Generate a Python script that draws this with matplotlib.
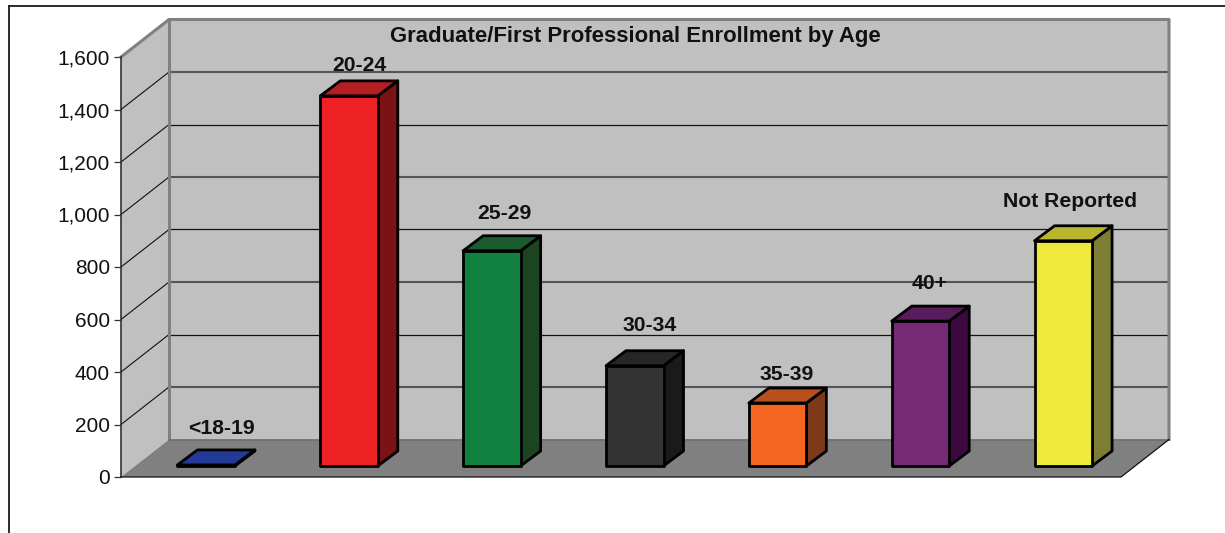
import matplotlib
matplotlib.use("Agg")
import matplotlib.pyplot as plt
from matplotlib.patches import Polygon

plt.rcParams["font.family"] = ["Liberation Sans", "DejaVu Sans"]

TITLE = "Graduate/First Professional Enrollment by Age"
categories = ["<18-19", "20-24", "25-29", "30-34", "35-39", "40+", "Not Reported"]
values = [4, 1410, 820, 382, 240, 552, 858]
y_ticks = [0, 200, 400, 600, 800, 1000, 1200, 1400, 1600]

front_colors = ["#233a97", "#ee2224", "#12803e", "#333333", "#f4661f", "#752a75", "#efe93c"]
top_colors = ["#233a97", "#b31e23", "#1a5c2e", "#262626", "#b8501f", "#581c5c", "#b8b52e"]
side_colors = ["#1a2a70", "#7b1315", "#1c4420", "#1a1a1a", "#7d3a1b", "#3c0a40", "#7e7e32"]

# label offsets from the bar's back top corner height, in pixels
label_dx = [15, 10, 12, 15, 9, 9, 7]
label_dy = [21, 15, 22, 25, 14, 23, 24]

# 3d look, everything in data units
WALL_DX = 48 / (1000 / 7)
WALL_DY = 37.5 / 0.2625
BAR_X = 0.395
BAR_W = 57.5 / (1000 / 7)
BAR_Y0 = 11 / 0.2625
BAR_DX = 20 / (1000 / 7)
BAR_DY = 15 / 0.2625

W, H = 1225, 533
fig = plt.figure(figsize=(W / 100, H / 100), dpi=100, facecolor="white")

# page frame lines
fig.add_artist(plt.Line2D([8.5 / W, 8.5 / W], [0, 1 - 5.5 / H], color="#1a1a1a", lw=1.3))
fig.add_artist(plt.Line2D([8.5 / W, 1], [1 - 5.5 / H, 1 - 5.5 / H], color="#1a1a1a", lw=1.3))

ax = fig.add_axes([121 / W, 1 - 477 / H, 1000 / W, 420 / H])
ax.set_xlim(0, len(categories))
ax.set_ylim(0, 1600)
ax.patch.set_visible(False)
for s in ax.spines.values():
    s.set_visible(False)

n = len(categories)
top = y_ticks[-1]

# walls and floor
ax.add_patch(Polygon([(0, 0), (WALL_DX, WALL_DY), (WALL_DX, top + WALL_DY), (0, top)],
                     fc="#c0c0c0", ec="none", clip_on=False, zorder=1))
ax.add_patch(Polygon([(WALL_DX, WALL_DY), (n + WALL_DX, WALL_DY), (n + WALL_DX, top + WALL_DY),
                      (WALL_DX, top + WALL_DY)], fc="#c0c0c0", ec="none", clip_on=False, zorder=1))
ax.add_patch(Polygon([(0, 0), (n, 0), (n + WALL_DX, WALL_DY), (WALL_DX, WALL_DY)],
                     fc="#808080", ec="none", clip_on=False, zorder=1))

# gridlines, every other one looks heavier in the original
for i, t in enumerate(y_ticks[1:-1]):
    heavy = i % 2 == 0
    ax.plot([0, WALL_DX], [t, t + WALL_DY], color="#111111", lw=0.8, clip_on=False, zorder=2)
    ax.plot([WALL_DX, n + WALL_DX], [t + WALL_DY, t + WALL_DY],
            color="#555555" if heavy else "#111111", lw=1.5 if heavy else 0.9,
            clip_on=False, zorder=2)

# wall outlines
edge = dict(color="#808080", lw=2.2, clip_on=False, zorder=3, solid_capstyle="projecting")
ax.plot([0, WALL_DX, n + WALL_DX, n + WALL_DX], [top, top + WALL_DY, top + WALL_DY, WALL_DY], **edge)
ax.plot([WALL_DX, WALL_DX], [WALL_DY, top + WALL_DY], **edge)
ax.plot([WALL_DX, n + WALL_DX], [WALL_DY, WALL_DY], color="#707070", lw=1.2, clip_on=False, zorder=3)

# axis lines and floor edge
ax.plot([0, 0], [0, top], color="#333333", lw=1.2, clip_on=False, zorder=4)
ax.plot([0, n, n + WALL_DX], [0, 0, WALL_DY], color="#111111", lw=0.9, clip_on=False, zorder=4)

# bars
for i, v in enumerate(values):
    x0 = i + BAR_X
    x1 = x0 + BAR_W
    y0 = BAR_Y0
    y1 = BAR_Y0 + v
    style = dict(ec="black", lw=2.0, joinstyle="round", clip_on=False, zorder=5)
    ax.add_patch(Polygon([(x1, y0), (x1 + BAR_DX, y0 + BAR_DY), (x1 + BAR_DX, y1 + BAR_DY), (x1, y1)],
                         fc=side_colors[i], **style))
    ax.add_patch(Polygon([(x0, y1), (x1, y1), (x1 + BAR_DX, y1 + BAR_DY), (x0 + BAR_DX, y1 + BAR_DY)],
                         fc=top_colors[i], **style))
    ax.add_patch(Polygon([(x0, y0), (x1, y0), (x1, y1), (x0, y1)], fc=front_colors[i], **style))
    ax.annotate(categories[i], xy=(x0 + BAR_W / 2, y1 + BAR_DY),
                xytext=(label_dx[i] * 0.72, label_dy[i] * 0.72), textcoords="offset points",
                ha="center", va="center", fontsize=15.2, fontweight="bold",
                color="#111111", zorder=7)

# y axis
ax.set_yticks(y_ticks)
ax.set_yticklabels([f"{t:,}" for t in y_ticks], fontsize=15, color="#111111")
ax.tick_params(axis="y", length=5, width=0.9, color="#333333", pad=3)
ax.set_xticks([])

# title sits inside the back wall
ax.text(0.5145, 1.023, TITLE, transform=ax.transAxes, ha="center", va="bottom",
        fontsize=15.9, fontweight="bold", color="#111111", zorder=7)

fig.savefig("out.png", dpi=100)
